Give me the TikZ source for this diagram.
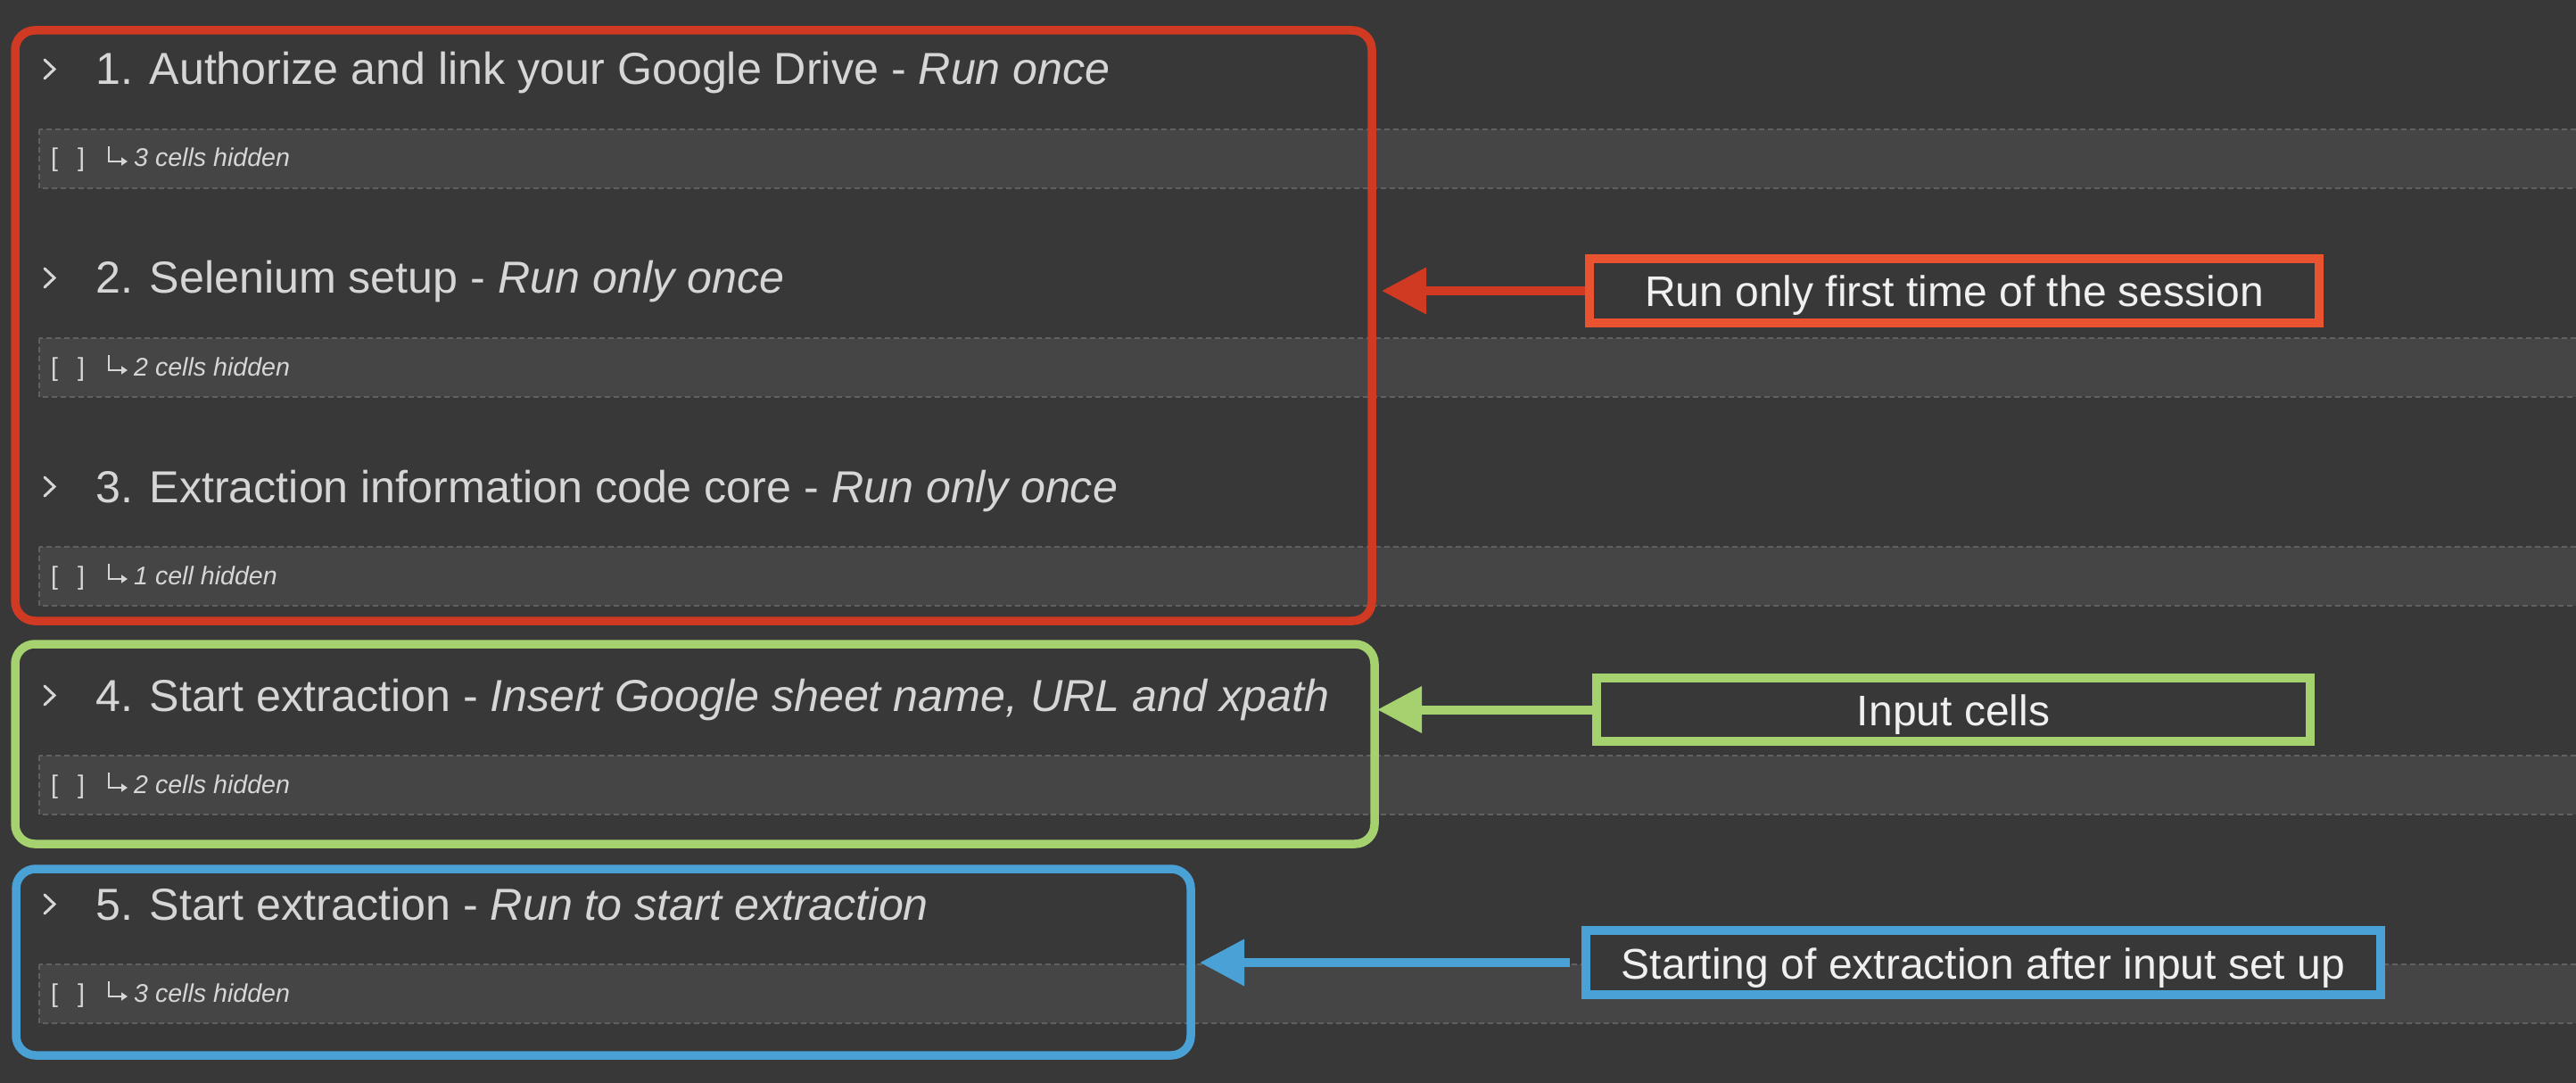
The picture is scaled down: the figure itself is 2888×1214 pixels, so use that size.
\documentclass[tikz,border=0pt]{standalone}
\usepackage{fontspec}
\setmainfont{Liberation Sans}
\usetikzlibrary{arrows.meta}
\definecolor{bgc}{HTML}{383838}
\definecolor{cellfill}{HTML}{454545}
\definecolor{celldash}{HTML}{606060}
\definecolor{txtc}{HTML}{D6D6D6}
\definecolor{lbltxt}{HTML}{F0F0F0}
\definecolor{redc}{HTML}{D13A22}
\definecolor{redl}{HTML}{E9532F}
\definecolor{greenc}{HTML}{A5D16F}
\definecolor{bluec}{HTML}{4AA1D5}
\tikzset{
  hdr/.style={anchor=base west, inner sep=0pt, text=txtc, font=\fontsize{50.2}{60}\selectfont},
  celltxt/.style={anchor=base west, inner sep=0pt, text=txtc, font=\fontsize{28.6}{34}\selectfont},
  hookarr/.style={draw=txtc, line width=2.2pt, -{Triangle[length=7pt,width=9pt]}},
  cellbar/.style={fill=cellfill, draw=celldash, line width=1.6pt, dash pattern=on 6pt off 4pt},
  chev/.style={draw=txtc, line width=3pt, line cap=round, line join=miter},
  grp/.style={rectangle, rounded corners=22pt, line width=9.5pt, inner sep=0pt},
  lbl/.style={rectangle, fill=bgc, line width=10pt, inner sep=0pt, text=lbltxt,
     font=\fontsize{48}{56}\selectfont, text height=36pt, text depth=0pt, align=center},
  arr/.style={line width=10pt, -{Triangle[length=50pt,width=50pt]}}
}
\begin{document}
\begin{tikzpicture}[x=1pt,y=-1pt]
\useasboundingbox (0,0) rectangle (2888,1214);
\fill[bgc] (0,0) rectangle (2888,1214);
% cell bars
\foreach \yy in {145,379,613,847,1081}{
  \draw[cellbar] (44,\yy) rectangle (2910,\yy+66);
}
% chevrons
\foreach \bb in {95,329,563,797,1031}{
  \draw[chev] (50,\bb-28) -- (61,\bb-17.5) -- (50,\bb-7);
}
% hook arrows of the hidden-cell lines
\foreach \bb in {187,421,655,889,1123}{
  \draw[hookarr] (122,\bb-23) |- (143,\bb-6);
}
% headers
\node[hdr] (h1) at (107,95) {1. Authorize and link your Google Drive - \textit{Run once}};
\node[hdr] (h2) at (107,329) {2. Selenium setup - \textit{Run only once}};
\node[hdr] (h3) at (107,563) {3. Extraction information code core - \textit{Run only once}};
\node[hdr] (h4) at (107,797) {4. Start extraction - \textit{Insert Google sheet name, URL and xpath}};
\node[hdr] (h5) at (107,1031) {5. Start extraction - \textit{Run to start extraction}};
% cell lines
\node[celltxt] (b1) at (57,187) {[\hspace{22pt}]};
\node[celltxt] (t1) at (150,187) {\textit{3 cells hidden}};
\node[celltxt] (b2) at (57,421) {[\hspace{22pt}]};
\node[celltxt] (t2) at (150,421) {\textit{2 cells hidden}};
\node[celltxt] (b3) at (57,655) {[\hspace{22pt}]};
\node[celltxt] (t3) at (150,655) {\textit{1 cell hidden}};
\node[celltxt] (b4) at (57,889) {[\hspace{22pt}]};
\node[celltxt] (t4) at (150,889) {\textit{2 cells hidden}};
\node[celltxt] (b5) at (57,1123) {[\hspace{22pt}]};
\node[celltxt] (t5) at (150,1123) {\textit{3 cells hidden}};
% group boxes
\node[grp, draw=redc, minimum width=1521pt, minimum height=662pt] (gr) at (777.5,365) {};
\node[grp, draw=greenc, minimum width=1524pt, minimum height=224pt] (gg) at (779,834) {};
\node[grp, draw=bluec, minimum width=1317pt, minimum height=209pt] (gb) at (676.5,1078.5) {};
% labels
\node[lbl, draw=redl, minimum width=818pt, minimum height=72pt] (lr) at (2191,326) {Run only first time of the session};
\node[lbl, draw=greenc, minimum width=800pt, minimum height=71pt] (lg) at (2190,795.5) {Input cells};
\node[lbl, draw=bluec, minimum width=891pt, minimum height=72pt] (lb) at (2223.5,1079) {Starting of extraction after input set up};
% arrow tips
\coordinate (tr) at (1549,326);
\coordinate (tg) at (1544,795.5);
\coordinate (tb) at (1345,1079);
\draw[arr, redc] (lr.west) -- (tr);
\draw[arr, greenc] (lg.west) -- (tg);
\draw[arr, bluec, shorten <=13pt] (lb.west) -- (tb);
\end{tikzpicture}
\end{document}
